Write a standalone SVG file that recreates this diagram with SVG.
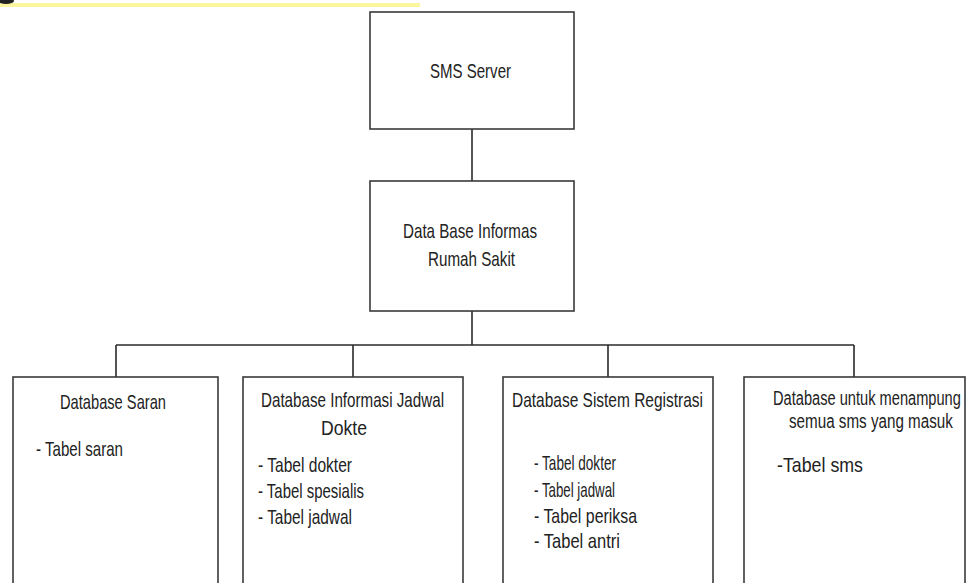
<svg xmlns="http://www.w3.org/2000/svg" width="967" height="583" viewBox="0 0 967 583">
<style>
.box{fill:#fff;stroke:#3a3a3a;stroke-width:1.6}
.ln{fill:none;stroke:#2a2a2a;stroke-width:1.6}
text{font-family:"Liberation Sans",Arial,sans-serif;font-size:21px;fill:#222}
</style>
<rect width="967" height="583" fill="#fff"/>
<rect x="0" y="3" width="420" height="4" fill="#fbf58e" opacity="0.85"/>
<ellipse cx="6" cy="1" rx="8" ry="3" fill="#222"/>
<g id="connectors">
<path class="ln" d="M472 129V181"/>
<path class="ln" d="M472 311V345"/>
<path class="ln" d="M116 345H854"/>
<path class="ln" d="M116 345V377M353 345V377M608 345V377M854 345V377"/>
</g>
<g id="sms-server">
<rect class="box" x="370" y="12" width="204" height="117"/>
<text x="430" y="78" textLength="81" lengthAdjust="spacingAndGlyphs">SMS Server</text>
</g>
<g id="db-rumah-sakit">
<rect class="box" x="370" y="181" width="204" height="130"/>
<text x="403" y="238" textLength="134" lengthAdjust="spacingAndGlyphs">Data Base Informas</text>
<text x="428" y="266" textLength="87" lengthAdjust="spacingAndGlyphs">Rumah Sakit</text>
</g>
<g id="db-saran">
<rect class="box" x="13" y="377" width="205" height="220"/>
<text x="60" y="409" textLength="106" lengthAdjust="spacingAndGlyphs">Database Saran</text>
<text x="36" y="456" textLength="87" lengthAdjust="spacingAndGlyphs">- Tabel saran</text>
</g>
<g id="db-jadwal">
<rect class="box" x="243" y="377" width="220" height="220"/>
<text x="261" y="407" textLength="183" lengthAdjust="spacingAndGlyphs">Database Informasi Jadwal</text>
<text x="321" y="435" textLength="46" lengthAdjust="spacingAndGlyphs">Dokte</text>
<text x="258" y="472" textLength="94" lengthAdjust="spacingAndGlyphs">- Tabel dokter</text>
<text x="258" y="498" textLength="106" lengthAdjust="spacingAndGlyphs">- Tabel spesialis</text>
<text x="258" y="524" textLength="94" lengthAdjust="spacingAndGlyphs">- Tabel jadwal</text>
</g>
<g id="db-registrasi">
<rect class="box" x="503" y="377" width="210" height="220"/>
<text x="512" y="407" textLength="191" lengthAdjust="spacingAndGlyphs">Database Sistem  Registrasi</text>
<text x="534" y="470" textLength="82" lengthAdjust="spacingAndGlyphs">- Tabel dokter</text>
<text x="534" y="497" textLength="81" lengthAdjust="spacingAndGlyphs">- Tabel jadwal</text>
<text x="534" y="523" textLength="103" lengthAdjust="spacingAndGlyphs">- Tabel periksa</text>
<text x="534" y="548" textLength="86" lengthAdjust="spacingAndGlyphs">- Tabel antri</text>
</g>
<g id="db-sms">
<rect class="box" x="744" y="377" width="221" height="220"/>
<text transform="translate(773 405) scale(0.697 1)">Database untuk menampung</text>
<text transform="translate(789 428) scale(0.724 1)">semua sms yang masuk</text>
<text x="777" y="472" textLength="86" lengthAdjust="spacingAndGlyphs">-Tabel sms</text>
</g>
</svg>
